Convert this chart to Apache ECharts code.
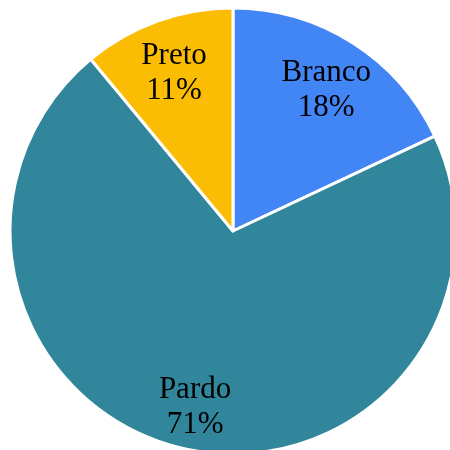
<!DOCTYPE html>
<html>
<head>
<meta charset="utf-8">
<script src="https://cdn.jsdelivr.net/npm/echarts@6/dist/echarts.min.js"></script>
<style>
  html, body { margin: 0; padding: 0; background: #ffffff; }
  #chart { width: 450px; height: 450px; }
</style>
</head>
<body>
<div id="chart"></div>
<script>
// Population share by colour / race
const categories = ['Branco', 'Pardo', 'Preto'];
const shares = [18, 71, 11];
const colors = ['#4285F4', '#31869B', '#FBBC04'];

const pieData = categories.map((name, i) => ({ name, value: shares[i] }));

const chart = echarts.init(document.getElementById('chart'), null, { renderer: 'canvas' });

chart.setOption({
  animation: false,
  backgroundColor: '#ffffff',
  series: [
    {
      // filled slices
      type: 'pie',
      center: [233, 231],
      radius: 223,
      startAngle: 90,
      clockwise: true,
      silent: true,
      data: pieData,
      color: colors,
      itemStyle: { borderColor: '#ffffff', borderWidth: 3 },
      label: { show: false },
      labelLine: { show: false }
    },
    {
      // transparent ring that carries the labels further out than mid-radius
      type: 'pie',
      center: [233, 231],
      radius: [120, 222],
      startAngle: 90,
      clockwise: true,
      silent: true,
      data: pieData,
      itemStyle: { color: 'rgba(0,0,0,0)', borderWidth: 0 },
      label: {
        show: true,
        position: 'inside',
        // a short spacer line on top nudges the two text lines slightly down
        formatter: '{s| }\n{t|{b}}\n{t|{d}%}',
        rich: {
          s: { fontSize: 4, lineHeight: 13 },
          t: {
            fontFamily: 'Liberation Serif',
            fontSize: 31,
            lineHeight: 35,
            color: '#000000'
          }
        }
      },
      labelLine: { show: false }
    }
  ]
});
</script>
</body>
</html>
